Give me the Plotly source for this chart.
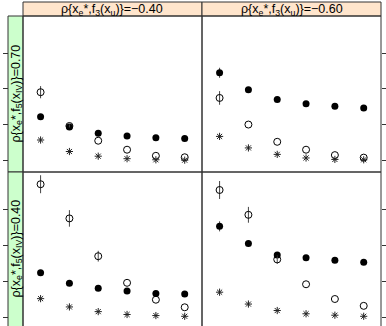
import plotly.graph_objects as go

# ---- data (tick units) ----
x_vals = [1, 2, 3, 4, 5, 6]
col_labels = ["ρ{x<sub>e</sub>*,f<sub>3</sub>(x<sub>u</sub>)}=−0.40",
              "ρ{x<sub>e</sub>*,f<sub>3</sub>(x<sub>u</sub>)}=−0.60"]
row_labels = ["ρ{x<sub>e</sub>*,f<sub>5</sub>(x<sub>IV</sub>)}=0.70",
              "ρ{x<sub>e</sub>*,f<sub>5</sub>(x<sub>IV</sub>)}=0.40"]
y_ticks = [0, 1, 2, 3]

open_TL = [1.91, 0.97, 0.56, 0.31, 0.14, 0.10]
filled_TL = [1.23, 0.94, 0.77, 0.69, 0.64, 0.62]
star_TL = [0.58, 0.26, 0.13, 0.06, 0.03, 0.02]
open_TR = [1.75, 1.01, 0.53, 0.31, 0.16, 0.09]
filled_TR = [2.45, 1.98, 1.71, 1.59, 1.52, 1.47]
star_TR = [0.68, 0.36, 0.18, 0.08, 0.04, 0.03]
open_BL = [3.69, 2.74, 1.69, 0.95, 0.48, 0.27]
filled_BL = [1.23, 0.94, 0.80, 0.72, 0.65, 0.64]
star_BL = [0.51, 0.28, 0.15, 0.07, 0.04, 0.02]
open_BR = [3.53, 2.84, 1.60, 0.91, 0.50, 0.31]
filled_BR = [2.52, 2.04, 1.72, 1.65, 1.58, 1.52]
star_BR = [0.69, 0.36, 0.18, 0.09, 0.05, 0.02]

open_err_TL = [0.17, 0.04, 0, 0, 0, 0]
filled_err_TL = [0.05, 0.03, 0, 0, 0, 0]
open_err_TR = [0.19, 0, 0, 0, 0, 0]
filled_err_TR = [0.14, 0.04, 0, 0, 0, 0]
open_err_BL = [0.25, 0.23, 0.15, 0, 0, 0]
filled_err_BL = [0.05, 0, 0, 0, 0, 0]
open_err_BR = [0.25, 0.22, 0.12, 0, 0, 0]
filled_err_BR = [0.14, 0.04, 0, 0, 0, 0]

panels = [
    (open_TL, filled_TL, star_TL, open_err_TL, filled_err_TL),
    (open_TR, filled_TR, star_TR, open_err_TR, filled_err_TR),
    (open_BL, filled_BL, star_BL, open_err_BL, filled_err_BL),
    (open_BR, filled_BR, star_BR, open_err_BR, filled_err_BR),
]

W, H = 386, 326
px = lambda v: v / W
py = lambda v: (H - v) / H

# layout geometry (pixels)
L0, MID, R0 = 23, 202, 381
STRIP_T, TOP_T, ROW_DIV, BOT_B = 2, 16, 172, 328
GL0 = 8

fig = go.Figure()
ERR = "#444444"
for i, (o, f, s, oe, fe) in enumerate(panels):
    k = "" if i == 0 else str(i + 1)
    xa, ya = "x" + k, "y" + k
    fig.add_trace(go.Scatter(x=x_vals, y=f, mode="markers", xaxis=xa, yaxis=ya,
                             marker=dict(symbol="circle", size=7, color="black"),
                             error_y=dict(type="data", array=fe, visible=True, thickness=1,
                                          width=0, color=ERR),
                             showlegend=False))
    fig.add_trace(go.Scatter(x=x_vals, y=o, mode="markers", xaxis=xa, yaxis=ya,
                             marker=dict(symbol="circle-open", size=7, color="black",
                                         line=dict(width=1, color="black")),
                             error_y=dict(type="data", array=oe, visible=True, thickness=1,
                                          width=0, color=ERR),
                             showlegend=False))
    fig.add_trace(go.Scatter(x=x_vals, y=s, mode="markers", xaxis=xa, yaxis=ya,
                             marker=dict(symbol="asterisk-open", size=6, color="#222222",
                                         line=dict(width=1, color="#222222")),
                             showlegend=False))

xdom = [[px(L0), px(MID)], [px(MID), px(R0)]]
ydom = [[py(ROW_DIV), py(TOP_T)], [0, py(ROW_DIV)]]
yranges = [[-0.31, 4.03], [-0.25, 4.03]]

layout = dict(width=W, height=H, margin=dict(l=0, r=0, t=0, b=0),
              plot_bgcolor="white", paper_bgcolor="white",
              font=dict(family="Liberation Sans, Arial, sans-serif", size=12, color="black"))
for i in range(4):
    r, c = divmod(i, 2)
    k = "" if i == 0 else str(i + 1)
    layout["xaxis" + k] = dict(domain=xdom[c], range=[0.39, 6.6], anchor="y" + k,
                               showgrid=False, zeroline=False, showline=False,
                               showticklabels=False, ticks="")
    yax = dict(domain=ydom[r], range=yranges[r], showgrid=False, zeroline=False,
               showline=False, showticklabels=False, ticks="outside", ticklen=5,
               tickwidth=1, tickcolor="#333333", tickvals=y_ticks)
    if c == 0:
        yax.update(anchor="free", position=px(GL0), side="left")
    else:
        yax.update(anchor="x" + k, side="right")
    layout["yaxis" + k] = yax
fig.update_layout(**layout)

LINE = dict(color="#333333", width=1)
shapes = []
# top strips
for c, (a, b) in enumerate([(L0, MID), (MID, R0)]):
    shapes.append(dict(type="rect", xref="paper", yref="paper", x0=px(a), x1=px(b),
                       y0=py(TOP_T), y1=py(STRIP_T), fillcolor="#ffe5cc", line=LINE, layer="below"))
# left strips
for (a, b) in [(TOP_T, ROW_DIV), (ROW_DIV, BOT_B)]:
    shapes.append(dict(type="rect", xref="paper", yref="paper", x0=px(GL0), x1=px(L0),
                       y0=py(b), y1=py(a), fillcolor="#ccffcc", line=LINE, layer="below"))
# panel borders
for (a, b) in [(TOP_T, ROW_DIV), (ROW_DIV, BOT_B)]:
    for (l, rr) in [(L0, MID), (MID, R0)]:
        shapes.append(dict(type="rect", xref="paper", yref="paper", x0=px(l), x1=px(rr),
                           y0=py(b), y1=py(a), line=LINE, layer="above"))
fig.update_layout(shapes=shapes)

ann = []
for c, (a, b) in enumerate([(L0, MID), (MID, R0)]):
    ann.append(dict(text=col_labels[c], xref="paper", yref="paper", x=px((a + b) / 2),
                    y=py((STRIP_T + TOP_T) / 2 + 1), xanchor="center", yanchor="middle",
                    showarrow=False, font=dict(size=12.5)))
for r, (a, b) in enumerate([(TOP_T, ROW_DIV), (ROW_DIV, 326)]):
    ann.append(dict(text=row_labels[r], xref="paper", yref="paper", x=px((GL0 + L0) / 2 + 1),
                    y=py((a + b) / 2), xanchor="center", yanchor="middle", textangle=-90,
                    showarrow=False, font=dict(size=12.5)))
fig.update_layout(annotations=ann)

fig.write_html("out.html")
